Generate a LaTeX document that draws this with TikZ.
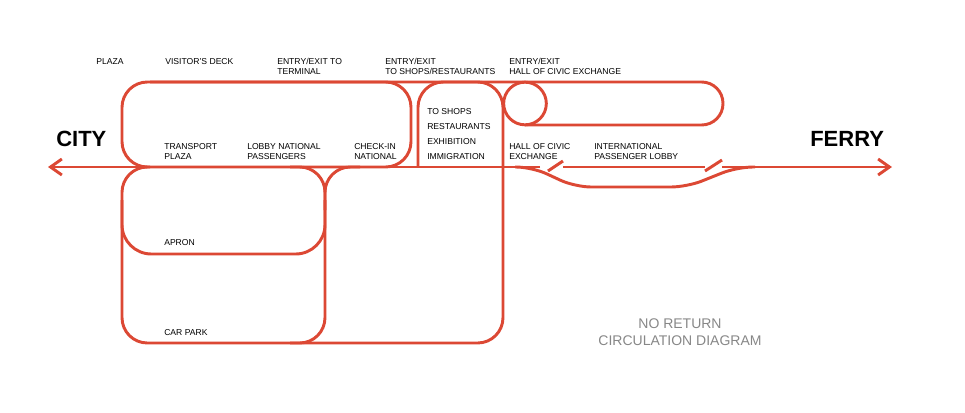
\documentclass[tikz,border=0pt]{standalone}
\usepackage{fontspec}
\setmainfont{Liberation Sans}
\usetikzlibrary{arrows.meta}
\definecolor{routered}{RGB}{220,72,52}
\definecolor{notegray}{RGB}{135,135,135}
\tikzset{
  flow/.style={draw=routered,line width=2.2pt,rounded corners=19pt},
  lbl/.style={anchor=base west,inner sep=0pt,align=left,
    font=\fontsize{6.45}{7.5}\selectfont},
  endlbl/.style={anchor=base west,inner sep=0pt,font=\fontsize{16.5}{18}\selectfont\bfseries},
  barb/.tip={Straight Barb[length=8.5pt,width=12pt]}
}
\begin{document}
\begin{tikzpicture}[x=0.75pt,y=-0.75pt,line join=round]
  \useasboundingbox (0,0) rectangle (965,412);
  % upper loops
  \draw[flow] (122,82) rectangle (411,167);
  \draw[flow,rounded corners=16pt] (150,82) -- (723,82) -- (723,125) -- (525,125);
  \draw[draw=routered,line width=2.2pt] (525,103.5) circle[radius=16pt];
  % shops box and lower loop
  \draw[flow] (418,167) -- (418,82) -- (503,82) -- (503,343) -- (122,343)
    -- (122,167) -- (150,167);
  \draw[flow,rounded corners=22pt] (122,200) -- (122,254) -- (325,254) -- (325,200);
  \draw[flow] (290,167) -- (325,167) -- (325,343) -- (290,343);
  \draw[flow] (325,210) -- (325,167) -- (360,167);
  % main axis city - ferry
  \draw[flow,-barb] (540,167) -- (48,167);
  \draw[flow,rounded corners=12pt] (515,167) -- (532,167) -- (575,187) -- (687,187)
    -- (737,167) -- (755,167);
  \draw[flow,-barb] (722,167) -- (892,167);
  % one-way lobby
  \draw[flow] (563,167) -- (705,167);
  \draw[flow] (548,171) -- (563,161);
  \draw[flow] (705,171) -- (722,160);
  % labels (base = last line)
  \node[endlbl] (city) at (56,146) {CITY};
  \node[endlbl] (ferry) at (810,146) {FERRY};
  \node[lbl] (plaza) at (96,64) {PLAZA};
  \node[lbl] (deck) at (165,64) {VISITOR'S DECK};
  \node[lbl] (entryterm) at (277,74) {ENTRY/EXIT TO\\TERMINAL};
  \node[lbl] (entryshop) at (385,74) {ENTRY/EXIT\\TO SHOPS/RESTAURANTS};
  \node[lbl] (entryhall) at (509,74) {ENTRY/EXIT\\HALL OF CIVIC EXCHANGE};
  \node[lbl] (transport) at (164,159) {TRANSPORT\\PLAZA};
  \node[lbl] (lobbynat) at (247,159) {LOBBY NATIONAL\\PASSENGERS};
  \node[lbl] (checkin) at (354,159) {CHECK-IN\\NATIONAL};
  \node[lbl,font=\fontsize{6.45}{11.25}\selectfont] (shops) at (427,159)
    {TO SHOPS\\RESTAURANTS\\EXHIBITION\\IMMIGRATION};
  \node[lbl] (hall) at (509,159) {HALL OF CIVIC\\EXCHANGE};
  \node[lbl] (intl) at (594,159) {INTERNATIONAL\\PASSENGER LOBBY};
  \node[lbl] (apron) at (164,245) {APRON};
  \node[lbl] (carpark) at (164,335) {CAR PARK};
  \node[anchor=base,inner sep=0pt,align=center,text=notegray,
    font=\fontsize{10.5}{12.75}\selectfont] (note) at (680,345)
    {NO RETURN\\CIRCULATION DIAGRAM};
\end{tikzpicture}
\end{document}
